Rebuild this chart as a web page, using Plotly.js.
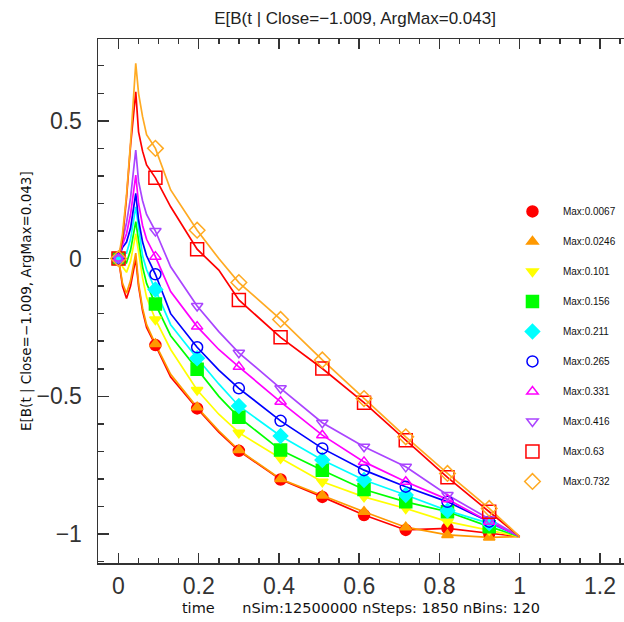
<!DOCTYPE html>
<html>
<head>
<meta charset="utf-8">
<script src="https://cdn.plot.ly/plotly-3.0.1.min.js"></script>
<style>html,body{margin:0;padding:0;background:#fff;}#chart{width:624px;height:622px;}</style>
</head>
<body>
<div id="chart"></div>
<script>
// ---- data ----
const seriesNames = ["Max:0.0067","Max:0.0246","Max:0.101","Max:0.156","Max:0.211","Max:0.265","Max:0.331","Max:0.416","Max:0.63","Max:0.732"];
const lineX = [0, 0.01, 0.02, 0.03, 0.043, 0.05, 0.06, 0.07, 0.092, 0.13, 0.196, 0.25, 0.3, 0.404, 0.508, 0.612, 0.716, 0.82, 0.924, 1.0];
const markX = [0, 0.092, 0.196, 0.3, 0.404, 0.508, 0.612, 0.716, 0.82, 0.924];

const l0067 = [0, -0.10, -0.145, -0.10, 0.0, -0.10, -0.19, -0.25, -0.314, -0.43, -0.544, -0.63, -0.698, -0.802, -0.865, -0.931, -0.985, -0.979, -0.997, -1.009];
const l0246 = [0, -0.09, -0.126, -0.08, 0.02, -0.09, -0.18, -0.24, -0.31, -0.42, -0.54, -0.625, -0.695, -0.80, -0.86, -0.919, -0.975, -1.003, -1.012, -1.009];
const l101  = [0, -0.03, -0.05, -0.01, 0.09, 0.02, -0.07, -0.14, -0.221, -0.33, -0.477, -0.565, -0.632, -0.725, -0.81, -0.865, -0.907, -0.955, -0.985, -1.009];
const l156  = [0, 0.0, -0.015, 0.03, 0.134, 0.06, -0.03, -0.09, -0.165, -0.28, -0.402, -0.5, -0.576, -0.695, -0.768, -0.838, -0.883, -0.919, -0.973, -1.009];
const l211  = [0, 0.02, 0.02, 0.07, 0.188, 0.11, 0.01, -0.04, -0.112, -0.24, -0.362, -0.455, -0.535, -0.644, -0.731, -0.804, -0.858, -0.915, -0.961, -1.009];
const l265  = [0, 0.04, 0.06, 0.11, 0.237, 0.14, 0.06, 0.01, -0.057, -0.2, -0.322, -0.405, -0.471, -0.589, -0.689, -0.768, -0.828, -0.883, -0.955, -1.009];
const l331  = [0, 0.05, 0.09, 0.16, 0.303, 0.2, 0.12, 0.07, 0.007, -0.12, -0.247, -0.33, -0.393, -0.52, -0.641, -0.738, -0.81, -0.874, -0.955, -1.009];
const l416  = [0, 0.07, 0.13, 0.22, 0.394, 0.28, 0.21, 0.16, 0.10, -0.03, -0.172, -0.265, -0.342, -0.471, -0.596, -0.683, -0.756, -0.858, -0.947, -1.009];
const l63   = [0, 0.07, 0.22, 0.41, 0.605, 0.46, 0.39, 0.34, 0.293, 0.188, 0.034, -0.042, -0.15, -0.286, -0.399, -0.523, -0.659, -0.794, -0.919, -1.009];
const l732  = [0, 0.09, 0.23, 0.42, 0.709, 0.6, 0.515, 0.45, 0.40, 0.249, 0.103, 0.0, -0.087, -0.221, -0.368, -0.508, -0.647, -0.78, -0.907, -1.009];

const m0067 = [0, -0.314, -0.544, -0.698, -0.802, -0.865, -0.931, -0.985, -0.979, -0.997];
const m0246 = [0, -0.31, -0.54, -0.695, -0.80, -0.86, -0.919, -0.975, -1.003, -1.012];
const m101  = [0, -0.221, -0.477, -0.632, -0.725, -0.81, -0.865, -0.907, -0.955, -0.985];
const m156  = [0, -0.165, -0.402, -0.576, -0.695, -0.768, -0.838, -0.883, -0.919, -0.973];
const m211  = [0, -0.112, -0.362, -0.535, -0.644, -0.731, -0.804, -0.858, -0.915, -0.961];
const m265  = [0, -0.057, -0.322, -0.471, -0.589, -0.689, -0.768, -0.828, -0.883, -0.955];
const m331  = [0, 0.007, -0.247, -0.393, -0.52, -0.641, -0.738, -0.81, -0.874, -0.955];
const m416  = [0, 0.10, -0.172, -0.342, -0.471, -0.596, -0.683, -0.756, -0.858, -0.947];
const m63   = [0, 0.293, 0.034, -0.15, -0.286, -0.399, -0.523, -0.659, -0.794, -0.919];
const m732  = [0, 0.40, 0.103, -0.087, -0.221, -0.368, -0.508, -0.647, -0.78, -0.907];

const xTickVals = [0, 0.2, 0.4, 0.6, 0.8, 1, 1.2];
const yTickVals = [-1, -0.5, 0, 0.5];
const titleText = "E[B(t | Close=\u22121.009, ArgMax=0.043]";
const xTitleText = "time      nSim:12500000 nSteps: 1850 nBins: 120";

// ---- styles ----
const lineSets = [l0067, l0246, l101, l156, l211, l265, l331, l416, l63, l732];
const markSets = [m0067, m0246, m101, m156, m211, m265, m331, m416, m63, m732];
const colors = ["#ff0000","#ff9900","#ffff00","#00ff00","#00ffff","#0000ff","#ff00ff","#aa44ff","#ff0000","#ffaa22"];
const symbols = ["circle","triangle-up","triangle-down","square","diamond","circle-open","triangle-up-open","triangle-down-open","square-open","diamond-open"];
const sizes = [11, 10, 10, 12, 11, 11, 10, 10, 13, 12];

const traces = [];
for (let i = 0; i < seriesNames.length; i++) {
  traces.push({
    x: lineX, y: lineSets[i], type: 'scatter', mode: 'lines',
    line: {color: colors[i], width: 1.7}, showlegend: false, hoverinfo: 'skip'
  });
}
for (let i = 0; i < seriesNames.length; i++) {
  traces.push({
    x: markX, y: markSets[i], type: 'scatter', mode: 'markers', name: seriesNames[i],
    legendgroup: 'g' + i,
    marker: {color: colors[i], symbol: symbols[i], size: sizes[i], line: {color: colors[i], width: 1.5}}
  });
}

const FONT = "Liberation Sans, Arial, sans-serif";
const FONT2 = "DejaVu Sans, sans-serif";
const layout = {
  width: 624, height: 622,
  margin: {l: 98, r: 0, t: 39, b: 59},
  paper_bgcolor: '#fff', plot_bgcolor: '#fff',
  font: {family: FONT, color: '#222'},
  title: {text: titleText, x: 0.569, xanchor: 'center', y: 0.971, yanchor: 'middle', font: {size: 17, family: FONT, color: '#222'}},
  xaxis: {
    range: [-0.0511, 1.26], tickvals: xTickVals, ticktext: xTickVals.map(v => String(v)),
    showgrid: false, zeroline: false, showline: true, linecolor: '#333', linewidth: 1.5, mirror: 'ticks',
    ticks: 'inside', ticklen: 10, tickwidth: 1.5, tickcolor: '#333',
    minor: {dtick: 0.05, tick0: 0, ticks: 'inside', ticklen: 5, tickwidth: 1.5, tickcolor: '#333', showgrid: false},
    tickfont: {size: 23, family: FONT, color: '#333'}, ticklabelstandoff: 2,
    title: {text: xTitleText, font: {size: 14.5, family: FONT2, color: '#111'}, standoff: 5}
  },
  yaxis: {
    range: [-1.105, 0.797], tickvals: yTickVals, ticktext: ["\u22121", "\u22120.5", "0", "0.5"],
    showgrid: false, zeroline: false, showline: true, linecolor: '#333', linewidth: 1.5, mirror: false,
    ticks: 'inside', ticklen: 11, tickwidth: 1.5, tickcolor: '#333',
    minor: {dtick: 0.1, tick0: 0, ticks: 'inside', ticklen: 6, tickwidth: 1.5, tickcolor: '#333', showgrid: false},
    tickfont: {size: 23, family: FONT, color: '#333'}, ticklabelstandoff: 10
  },
  annotations: [{
    text: titleText, xref: 'paper', yref: 'paper', x: -0.137, y: 0.5,
    xanchor: 'center', yanchor: 'middle', textangle: -90, showarrow: false,
    font: {size: 13.5, family: FONT2, color: '#111'}
  }],
  legend: {
    x: 0.768, xanchor: 'left', y: 0.128, yanchor: 'bottom',
    bgcolor: 'rgba(0,0,0,0)', borderwidth: 0, itemwidth: 51,
    font: {size: 10, family: FONT, color: '#111'},
    traceorder: 'grouped', tracegroupgap: 11
  },
  showlegend: true
};

Plotly.newPlot('chart', traces, layout, {displayModeBar: false, staticPlot: true});
</script>
</body>
</html>
